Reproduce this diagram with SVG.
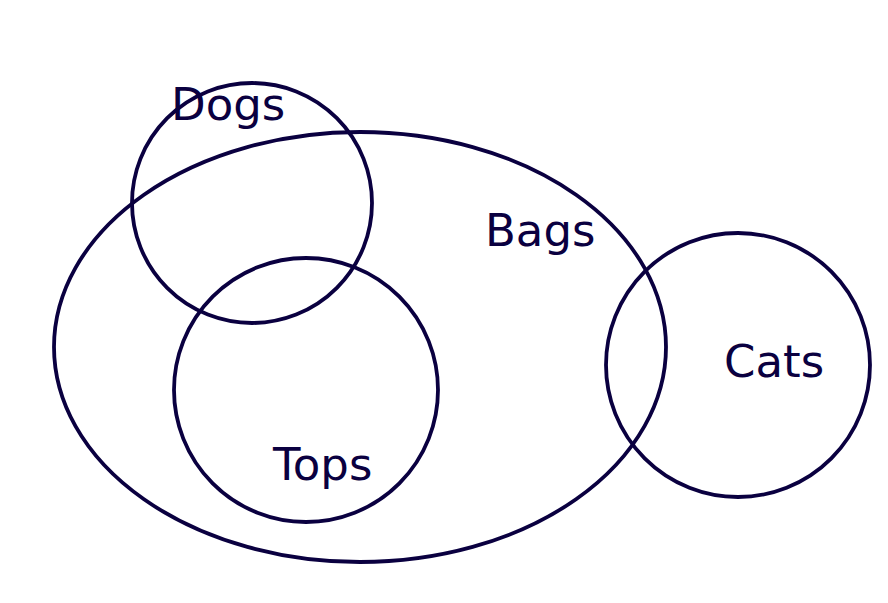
<svg xmlns="http://www.w3.org/2000/svg" width="888" height="603" viewBox="0 0 888 603">
<style>
.set{fill:none;stroke:#0a0040;stroke-width:3.8}
.lbl{font-family:"DejaVu Sans",sans-serif;font-size:45px;fill:#0a0040}
</style>
<rect width="888" height="603" fill="#fff"/>
<g id="bags"><ellipse class="set" cx="360" cy="347" rx="306" ry="215"/><text class="lbl" x="485" y="246">Bags</text></g>
<g id="dogs"><circle class="set" cx="252" cy="203" r="120"/><text class="lbl" x="171" y="120">Dogs</text></g>
<g id="tops"><circle class="set" cx="306" cy="390" r="132"/><text class="lbl" x="273" y="480">Tops</text></g>
<g id="cats"><circle class="set" cx="738" cy="365" r="132"/><text class="lbl" x="724" y="377">Cats</text></g>
<g id="connectors"/>
</svg>
